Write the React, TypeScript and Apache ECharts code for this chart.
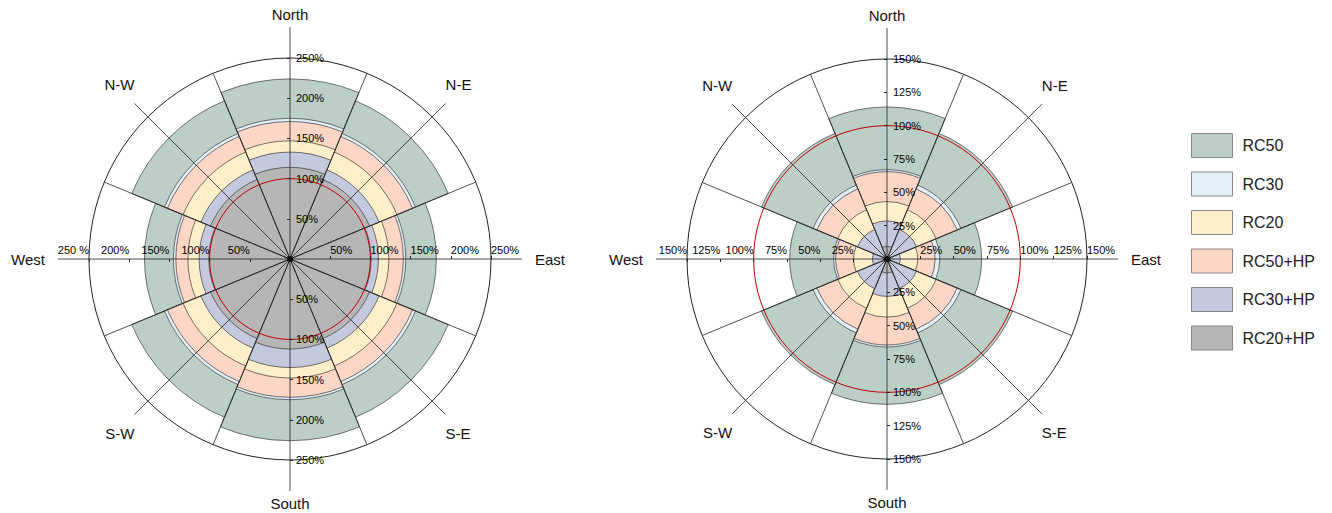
import React, { useEffect, useRef } from 'react';
import * as echarts from 'echarts';

// ---------- data ----------
const directions = ['North', 'N-E', 'East', 'S-E', 'South', 'S-W', 'West', 'N-W'];
const seriesNames = ['RC50', 'RC30', 'RC20', 'RC50+HP', 'RC30+HP', 'RC20+HP'];
const seriesColors = ['#bccfc6', '#e2f0f9', '#fdefc9', '#fdd6c6', '#c5c9de', '#b6b6b6'];

// left chart (%), order: N, NE, E, SE, S, SW, W, NW
const leftRC50 = [224, 213, 182, 213, 226, 213, 181, 213];
const leftRC30 = [175, 169, 144, 169, 175, 169, 145, 169];
const leftRC20 = [147, 144, 123, 144, 148, 144, 127, 144];
const leftRC50HP = [171, 165, 141, 165, 172, 165, 142, 165];
const leftRC30HP = [133, 120, 110, 120, 135, 120, 113, 120];
const leftRC20HP = [114, 107, 101, 107, 112, 107, 101, 107];

// right chart (%)
const rightRC50 = [114, 102, 71, 102, 109, 102, 73, 102];
const rightRC30 = [67, 60, 39.5, 60, 66, 60, 40, 60];
const rightRC20 = [43, 40, 23, 40, 43.5, 40, 25, 40];
const rightRC50HP = [65.5, 57, 36, 57, 64.5, 57, 38.5, 57];
const rightRC30HP = [28.5, 24, 10, 24, 28, 24, 11, 24];
const rightRC20HP = [9.5, 3, 2.5, 3, 10.5, 3, 2.5, 3];

const leftMax = 250;
const leftInterval = 50;
const rightMax = 150;
const rightInterval = 25;
const referenceValue = 100;

const FONT = 'Liberation Sans, Arial, sans-serif';
const CLEAR = 'rgba(0,0,0,0)';

function buildChart(
  i0: number,
  center: number[],
  radius: number,
  max: number,
  interval: number,
  values: number[][],
  westFormatter: (v: number) => string
) {
  const polar: any[] = [];
  const angleAxis: any[] = [];
  const radiusAxis: any[] = [];
  const series: any[] = [];

  const tickValues: number[] = [];
  for (let v = 0; v <= max + 1e-9; v += interval) tickValues.push(v);
  const splitColors = tickValues.map((v) => (v === referenceValue ? '#c00000' : CLEAR));

  // polar 0: bars
  polar.push({ center, radius });
  angleAxis.push({
    polarIndex: i0,
    type: 'category',
    data: directions,
    startAngle: 90 + 22.5,
    clockwise: true,
    boundaryGap: true,
    axisLine: { show: true, lineStyle: { color: '#222', width: 1 } },
    axisTick: { show: false, interval: 0 },
    axisLabel: { show: false, interval: 0 },
    splitLine: { show: true, interval: 0, lineStyle: { color: '#222', width: 0.8 } },
    z: 3,
  });
  radiusAxis.push({
    polarIndex: i0,
    type: 'value',
    min: 0,
    max,
    interval,
    axisLine: { show: false },
    axisTick: { show: false },
    axisLabel: { show: false },
    splitLine: { show: true, lineStyle: { color: splitColors, width: 1 } },
    z: 3,
  });

  // polar 1: main direction lines (N, E, S, W) + names
  polar.push({ center, radius: radius + 31 });
  angleAxis.push({
    polarIndex: i0 + 1,
    type: 'category',
    data: directions,
    startAngle: 90,
    clockwise: true,
    boundaryGap: false,
    axisLine: { show: false },
    axisTick: { show: false, interval: 0 },
    axisLabel: {
      show: true,
      interval: 0,
      margin: 5,
      color: '#111',
      fontSize: 15,
      fontFamily: FONT,
      padding: [0, 8, 0, 8],
      formatter: (v: string, i: number) => (i % 2 === 0 ? v : ''),
    },
    splitLine: { show: true, interval: 0, lineStyle: { color: ['#222', CLEAR], width: 0.8 } },
    z: 3,
  });
  radiusAxis.push({ polarIndex: i0 + 1, type: 'value', min: 0, max: 1, show: false });

  // polar 2: diagonal direction lines + names
  polar.push({ center, radius: radius + 19 });
  angleAxis.push({
    polarIndex: i0 + 2,
    type: 'category',
    data: directions,
    startAngle: 90,
    clockwise: true,
    boundaryGap: false,
    axisLine: { show: false },
    axisTick: { show: false, interval: 0 },
    axisLabel: {
      show: true,
      interval: 0,
      margin: 0,
      color: '#111',
      fontSize: 15,
      fontFamily: FONT,
      padding: [11, 0, 11, 0],
      formatter: (v: string, i: number) => (i % 2 === 1 ? v : ''),
    },
    splitLine: { show: true, interval: 0, lineStyle: { color: [CLEAR, '#222'], width: 0.8 } },
    z: 3,
  });
  radiusAxis.push({ polarIndex: i0 + 2, type: 'value', min: 0, max: 1, show: false });

  // polars 3-6: tick labels along N, E, S, W
  const fmt = (v: number) => (v === 0 ? '' : v + '%');
  const labelAxes = [
    { angle: 90, margin: -6, align: 'left', verticalAlign: 'middle', formatter: fmt },
    { angle: 0, margin: 4, align: 'left', verticalAlign: 'bottom', formatter: fmt },
    { angle: 270, margin: 6, align: 'left', verticalAlign: 'middle', formatter: fmt },
    { angle: 180, margin: -4, align: 'right', verticalAlign: 'bottom', formatter: westFormatter },
  ];
  labelAxes.forEach((la, k) => {
    const pi = i0 + 3 + k;
    polar.push({ center, radius });
    angleAxis.push({ polarIndex: pi, type: 'value', min: 0, max: 360, startAngle: la.angle, show: false });
    radiusAxis.push({
      polarIndex: pi,
      type: 'value',
      min: 0,
      max,
      interval,
      axisLine: { show: false },
      axisTick: { show: true, length: 3, lineStyle: { color: '#222', width: 1 } },
      axisLabel: {
        show: true,
        margin: la.margin,
        align: la.align,
        verticalAlign: la.verticalAlign,
        formatter: la.formatter,
        fontSize: 11,
        color: '#000',
        fontFamily: FONT,
      },
      splitLine: { show: false },
      z: 4,
    });
  });

  // bars: drawn largest first
  const drawOrder = [0, 1, 3, 2, 4, 5];
  drawOrder.forEach((k) => {
    series.push({
      type: 'bar',
      name: seriesNames[k],
      coordinateSystem: 'polar',
      polarIndex: i0,
      data: values[k],
      barGap: '-100%',
      barCategoryGap: '0%',
      itemStyle: { color: seriesColors[k], borderColor: '#3a3a3a', borderWidth: 0.7 },
      z: 2,
      silent: true,
    });
  });

  // center dot
  series.push({
    type: 'scatter',
    coordinateSystem: 'polar',
    polarIndex: i0 + 1,
    data: [[0, directions[0]]],
    symbolSize: 6,
    itemStyle: { color: '#000' },
    z: 6,
    silent: true,
  });

  return { polar, angleAxis, radiusAxis, series };
}

export default function App() {
  const ref = useRef<HTMLDivElement>(null);

  useEffect(() => {
    if (!ref.current) return;
    const chart = echarts.init(ref.current, null, { renderer: 'svg' });

    const left = buildChart(
      0,
      [290, 259],
      201,
      leftMax,
      leftInterval,
      [leftRC50, leftRC30, leftRC20, leftRC50HP, leftRC30HP, leftRC20HP],
      (v: number) => (v === 0 ? '' : v === leftMax ? v + ' %' : v + '%')
    );
    const right = buildChart(
      7,
      [887, 259],
      200,
      rightMax,
      rightInterval,
      [rightRC50, rightRC30, rightRC20, rightRC50HP, rightRC30HP, rightRC20HP],
      (v: number) => (v === 0 ? '' : v + '%')
    );

    chart.setOption({
      animation: false,
      backgroundColor: '#ffffff',
      textStyle: { fontFamily: FONT },
      legend: {
        data: seriesNames,
        orient: 'vertical',
        left: 1191,
        top: 133,
        padding: 0,
        itemWidth: 41,
        itemHeight: 24,
        itemGap: 13.5,
        icon: 'rect',
        selectedMode: false,
        itemStyle: { borderColor: '#888', borderWidth: 1 },
        textStyle: { fontSize: 16, color: '#222', fontFamily: FONT, padding: [0, 0, 0, 5] },
      },
      polar: [...left.polar, ...right.polar],
      angleAxis: [...left.angleAxis, ...right.angleAxis],
      radiusAxis: [...left.radiusAxis, ...right.radiusAxis],
      series: [...left.series, ...right.series],
    });

    return () => chart.dispose();
  }, []);

  return (
    <div
      ref={ref}
      style={{ position: 'fixed', left: 0, top: 0, width: 1332, height: 513, background: '#fff' }}
    />
  );
}
